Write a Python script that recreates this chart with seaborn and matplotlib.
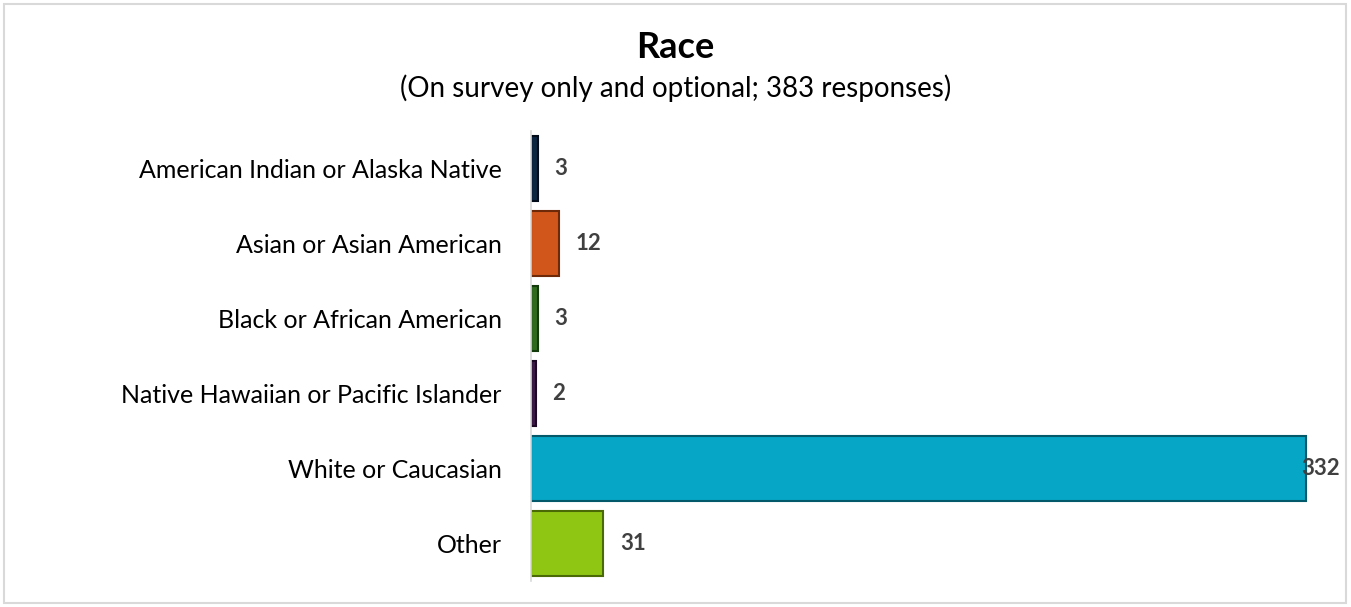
import matplotlib
matplotlib.use("Agg")
import matplotlib.pyplot as plt
import matplotlib.patches as mpatches
import seaborn as sns
import pandas as pd

# Datos del gráfico
categories = [
    "American Indian or Alaska Native",
    "Asian or Asian American",
    "Black or African American",
    "Native Hawaiian or Pacific Islander",
    "White or Caucasian",
    "Other",
]
counts = [3, 12, 3, 2, 332, 31]
bar_colors = ["#0b2440", "#d0561b", "#2f6a1f", "#3b1a46", "#06a6c6", "#8fc614"]
edge_colors = ["#000a18", "#6e2a08", "#123a0a", "#1c0824", "#03586a", "#4a6a05"]

title = "Race"
subtitle = "(On survey only and optional; 383 responses)"

sns.set_theme(style="white")
plt.rcParams['font.family'] = ['Lato', 'DejaVu Sans']

df = pd.DataFrame({"Race": categories, "Count": counts})

fig = plt.figure(figsize=(13.51, 6.07), dpi=100)
ax = fig.add_axes([0.393, 0.0428, 0.577, 0.741])

sns.barplot(data=df, x="Count", y="Race", hue="Race", palette=bar_colors,
            legend=False, width=0.87, saturation=1, ax=ax, orient="h")

for patch, ec in zip(ax.patches, edge_colors):
    patch.set_edgecolor(ec)
    patch.set_linewidth(1.5)

ax.set_xlim(0, 334)
ax.set_xlabel("")
ax.set_ylabel("")
ax.set_xticks([])
ax.tick_params(axis="y", length=0, pad=21, labelsize=18, labelcolor="#000000")

for side in ["top", "right", "bottom"]:
    ax.spines[side].set_visible(False)
ax.spines["left"].set_color("#d9d9d9")
ax.spines["left"].set_linewidth(1.2)

# Etiquetas de valor
max_val = max(counts)
for i, v in enumerate(counts):
    off = -3 if v == max_val else 12
    ax.annotate(str(v), xy=(v, i), xytext=(off, 0), textcoords="offset points",
                ha="left", va="center", fontsize=16, fontweight="bold",
                color="#404040", annotation_clip=False)

fig.text(0.5, 1 - 48 / 607, title, ha="center", va="center",
         fontsize=26, fontweight="bold", color="#000000")
fig.text(0.5, 1 - 88 / 607, subtitle, ha="center", va="center",
         fontsize=20, color="#000000")

# Borde del área del gráfico
border = mpatches.Rectangle((4 / 1351, 4 / 607), 1342 / 1351, 599 / 607,
                            transform=fig.transFigure, fill=False,
                            edgecolor="#d9d9d9", linewidth=1.5)
fig.patches.append(border)

fig.savefig("out.png", dpi=100)
